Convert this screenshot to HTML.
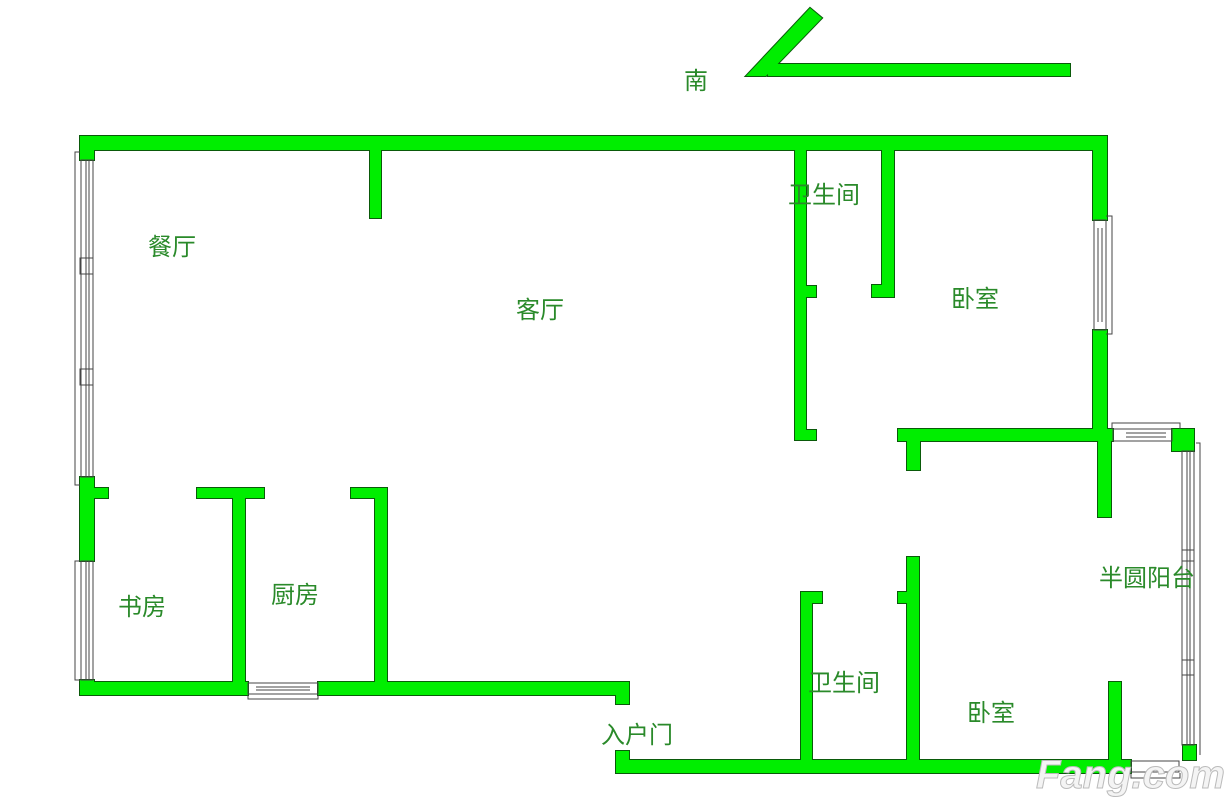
<!DOCTYPE html>
<html><head><meta charset="utf-8"><style>
html,body{margin:0;padding:0;background:#fff;width:1231px;height:800px;overflow:hidden}
svg{display:block}
text{font-family:"Liberation Sans","Noto Sans CJK SC",sans-serif;fill:#2a8a2a;font-size:24px}
</style></head><body>
<svg width="1231" height="800" viewBox="0 0 1231 800" xmlns="http://www.w3.org/2000/svg">
<defs>
<g id="walls">
<rect x="768" y="64" width="302" height="12"/>
<polygon points="746,76 810,8 822,18 766,76"/>
<rect x="80" y="136" width="1027" height="14"/>
<rect x="80" y="136" width="14" height="24"/>
<rect x="370" y="150" width="11" height="68"/>
<rect x="80" y="477" width="14" height="84"/>
<rect x="94" y="488" width="14" height="10"/>
<rect x="80" y="680" width="14" height="15"/>
<rect x="80" y="682" width="168" height="13"/>
<rect x="318" y="682" width="310" height="13"/>
<rect x="616" y="682" width="13" height="22"/>
<rect x="197" y="488" width="67" height="10"/>
<rect x="233" y="488" width="12" height="194"/>
<rect x="351" y="488" width="36" height="10"/>
<rect x="375" y="488" width="12" height="194"/>
<rect x="795" y="150" width="11" height="290"/>
<rect x="806" y="286" width="10" height="11"/>
<rect x="806" y="430" width="10" height="10"/>
<rect x="882" y="150" width="12" height="147"/>
<rect x="872" y="285" width="22" height="12"/>
<rect x="1093" y="136" width="14" height="84"/>
<rect x="1093" y="330" width="14" height="111"/>
<rect x="898" y="429" width="215" height="12"/>
<rect x="907" y="429" width="13" height="41"/>
<rect x="1098" y="429" width="13" height="88"/>
<rect x="1172" y="429" width="22" height="22"/>
<rect x="616" y="751" width="13" height="22"/>
<rect x="616" y="760" width="515" height="13"/>
<rect x="801" y="592" width="11" height="175"/>
<rect x="801" y="592" width="21" height="11"/>
<rect x="907" y="557" width="12" height="210"/>
<rect x="898" y="592" width="21" height="11"/>
<rect x="1109" y="682" width="12" height="85"/>
<rect x="1183" y="745" width="13" height="15"/>
</g>
</defs>
<use href="#walls" fill="#0a5a0a" stroke="#0a5a0a" stroke-width="2"/>
<use href="#walls" fill="#00ee00"/>
<g fill="none" stroke="#444" stroke-width="1">
<rect x="81" y="160" width="12" height="317"/>
<line x1="86" y1="160" x2="86" y2="477"/><line x1="89" y1="160" x2="89" y2="477"/>
<polyline points="80,152 75,152 75,485 80,485"/>
<rect x="80" y="258" width="13" height="16"/><rect x="80" y="369" width="13" height="16"/>
<rect x="81" y="561" width="12" height="119"/>
<line x1="86" y1="561" x2="86" y2="680"/><line x1="89" y1="561" x2="89" y2="680"/>
<polyline points="80,561 75,561 75,680 80,680"/>
<rect x="248" y="683" width="70" height="11"/>
<line x1="256" y1="687" x2="310" y2="687"/><line x1="256" y1="690" x2="310" y2="690"/>
<polyline points="248,695 248,699 318,699 318,695"/>
<rect x="1094" y="220" width="12" height="110"/>
<line x1="1098" y1="228" x2="1098" y2="322"/><line x1="1102" y1="228" x2="1102" y2="322"/>
<polyline points="1106,216 1112,216 1112,334 1106,334"/>
<rect x="1113" y="429" width="59" height="12"/>
<line x1="1126" y1="433" x2="1166" y2="433"/><line x1="1126" y1="437" x2="1166" y2="437"/>
<polyline points="1112,429 1112,423 1180,423 1180,429"/>
<rect x="1182" y="451" width="12" height="294"/>
<line x1="1187" y1="451" x2="1187" y2="745"/><line x1="1190" y1="451" x2="1190" y2="745"/>
<polyline points="1196,443 1200,443 1200,755"/>
<rect x="1182" y="550" width="12" height="11"/><rect x="1182" y="660" width="12" height="15"/>
<rect x="1131" y="761" width="48" height="11"/>
<polyline points="1131,773 1131,778 1180,778 1180,773"/>
</g>
<text x="684" y="89">南</text>
<text x="148" y="255">餐厅</text>
<text x="516" y="318">客厅</text>
<text x="788" y="203">卫生间</text>
<text x="951" y="307">卧室</text>
<text x="1099" y="586">半圆阳台</text>
<text x="118" y="615">书房</text>
<text x="271" y="603">厨房</text>
<text x="808" y="691">卫生间</text>
<text x="967" y="721">卧室</text>
<text x="601" y="743">入户门</text>
<text x="1036" y="788" style="font-size:40px;font-style:italic;font-weight:bold;fill:#f4f4f4;stroke:#bbb;stroke-width:1">Fang.com</text>
</svg>
</body></html>
